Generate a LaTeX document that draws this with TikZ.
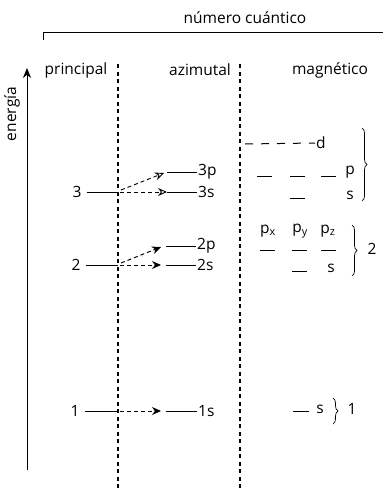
\documentclass[tikz,border=0pt]{standalone}
\usepackage{fontspec}
\setmainfont{Open Sans}
\usepackage{tikz}
\usetikzlibrary{arrows.meta, decorations.pathreplacing}

\begin{document}
\begin{tikzpicture}[x=1pt, y=-1pt,
    txt/.style={font=\fontsize{15.5}{18}\selectfont, inner sep=1pt},
    colline/.style={dash pattern=on 4pt off 3.5pt, line width=1.1pt},
    level/.style={line width=1pt},
    jump/.style={dash pattern=on 4pt off 3pt, line width=1pt, -{Stealth[length=9pt, width=8pt]}},
    jumpopen/.style={dash pattern=on 4pt off 3pt, line width=0.9pt, -{Stealth[open, length=9pt, width=8pt]}},
    orb/.style={line width=1pt},
    brc/.style={decorate, decoration={brace, amplitude=5pt}, line width=0.7pt}]
    \useasboundingbox (0,0) rectangle (383,490);
    % cabecera
    \node[txt] (tit) at (245,18) {número cuántico};
    \draw[line width=0.7pt] (43,40) -- (43,32) -- (383,32);
    \node[txt] (hprin) at (76,70) {principal};
    \node[txt] (hazim) at (200,70) {azimutal};
    \node[txt] (hmag) at (330,70) {magnético};
    % eje de energia
    \coordinate (ebot) at (27,470);
    \coordinate (etop) at (27,68);
    \draw[line width=0.8pt, -{Stealth[length=10pt, width=8pt]}] (ebot) -- (etop);
    \node[txt, rotate=90] (ener) at (12,114) {energía};
    % columnas
    \draw[colline] (118,64) -- (118,490);
    \draw[colline] (240,64) -- (240,490);
    % n = 3
    \node[txt] (n3) at (77,192) {3};
    \coordinate (c3) at (118,192);
    \draw[level] (n3.east) ++(4,0) -- (c3);
    \node[txt, anchor=west] (l3p) at (197,172) {3p};
    \node[txt, anchor=west] (l3s) at (197,192) {3s};
    \coordinate (b3p) at (167,172);
    \coordinate (b3s) at (167,192);
    \draw[level] (b3p) -- (l3p.west);
    \draw[level] (b3s) -- (l3s.west);
    \draw[jumpopen] (121,190) -- (164,173);
    \draw[jumpopen] (c3) ++(2,0) -- (b3s);
    % n = 2
    \node[txt] (n2) at (76,265) {2};
    \coordinate (c2) at (118,265);
    \draw[level] (n2.east) ++(4,0) -- (c2);
    \node[txt, anchor=west] (l2p) at (196,246) {2p};
    \node[txt, anchor=west] (l2s) at (196,265) {2s};
    \coordinate (b2p) at (166,246);
    \coordinate (b2s) at (166,265);
    \draw[level] (b2p) -- (l2p.west);
    \draw[level] (b2s) -- (l2s.west);
    \draw[jump] (121,263) -- (161,247);
    \draw[jump] (c2) ++(2,0) -- (161,265);
    % n = 1
    \node[txt] (n1) at (75,411) {1};
    \coordinate (c1) at (118,411);
    \draw[level] (n1.east) ++(4,0) -- (c1);
    \node[txt, anchor=west] (l1s) at (197,411) {1s};
    \coordinate (b1s) at (166,411);
    \draw[level] (b1s) -- (l1s.west);
    \draw[jump] (c1) ++(2,0) -- (161,411);
    % magnetico, n = 3
    \node[txt, anchor=west] (m3d) at (315,143) {d};
    \draw[orb, dash pattern=on 8pt off 8pt] (245,144) -- (m3d.west);
    \node[txt] (m3p) at (350,172) {p};
    \node[txt] (m3s) at (350,195) {s};
    \foreach \xa in {257,290,321}
        \draw[orb] (\xa,176) -- ++(15,0);
    \draw[orb] (290,198) -- ++(15,0);
    \draw[brc] (362,128) -- (362,201);
    % magnetico, n = 2
    \node[txt] (m2px) at (268,231) {p\textsubscript{x}};
    \node[txt] (m2py) at (300,231) {p\textsubscript{y}};
    \node[txt] (m2pz) at (328,231) {p\textsubscript{z}};
    \foreach \xa in {260,292,321}
        \draw[orb] (\xa,250) -- ++(15,0);
    \draw[orb] (292,271) -- ++(15,0);
    \node[txt] (m2s) at (331,268) {s};
    \draw[brc] (352,225) -- (352,276);
    \node[txt] (m2n) at (372,249) {2};
    % magnetico, n = 1
    \draw[orb] (293,411) -- ++(16,0);
    \node[txt] (m1s) at (320,409) {s};
    \draw[brc] (333,398) -- (333,424);
    \node[txt] (m1n) at (352,409) {1};
\end{tikzpicture}
\end{document}
